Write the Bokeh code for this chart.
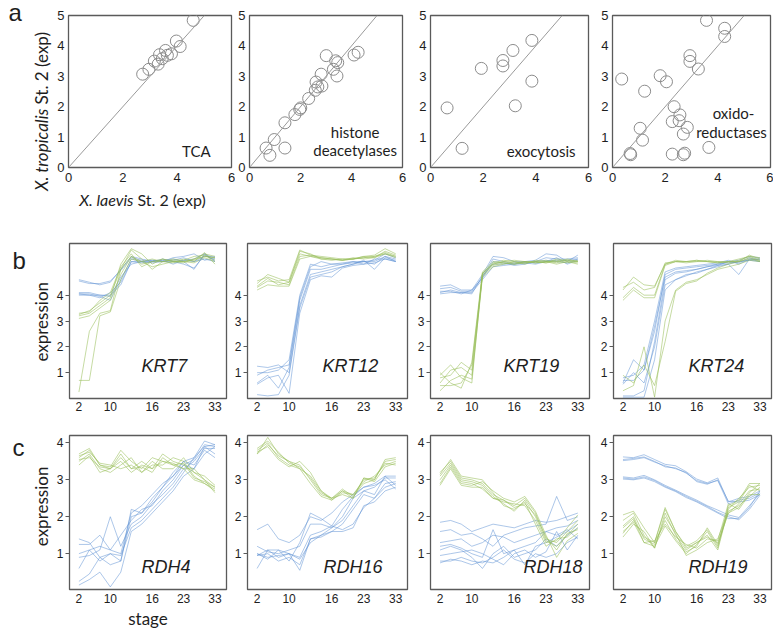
from bokeh.plotting import figure
from bokeh.layouts import row, column
from bokeh.models import FixedTicker, Label, Slope, Range1d
from bokeh.embed import file_html
from bokeh.resources import INLINE
import math

# ---------------- data ----------------
STAGE_POS = [0, 1, 2, 3, 4, 5, 6, 7, 8, 9, 10, 11, 12, 13]
STAGE_TICK_POS = [0, 3, 7, 10, 13]
STAGE_TICK_LABELS = ["2", "10", "16", "23", "33"]

SCATTER_X_TICKS = [0, 2, 4, 6]
SCATTER_Y_TICKS = [0, 1, 2, 3, 4, 5]
EXPR_TICKS = [1, 2, 3, 4]

TCA_x = [2.73, 2.96, 3.16, 3.30, 3.35, 3.45, 3.57, 3.64, 3.79, 3.97, 4.11, 4.59]
TCA_y = [3.07, 3.23, 3.50, 3.40, 3.71, 3.58, 3.85, 3.69, 3.74, 4.16, 3.98, 4.84]

HDAC_x = [0.65, 0.80, 0.97, 1.39, 1.39, 1.78, 1.97, 2.01, 2.32, 2.58, 2.61, 2.68, 2.81, 2.84,
          3.01, 3.29, 3.38, 3.46, 3.43, 4.10, 4.26]
HDAC_y = [0.64, 0.40, 0.92, 0.64, 1.47, 1.74, 1.91, 1.96, 2.27, 2.54, 2.81, 2.65, 3.07, 2.68,
          3.68, 3.23, 3.51, 3.45, 3.01, 3.70, 3.79]

EXO_x = [0.63, 1.20, 1.93, 2.75, 2.75, 3.13, 3.22, 3.85, 3.85]
EXO_y = [1.96, 0.63, 3.26, 3.52, 3.34, 3.85, 2.03, 2.84, 4.18]

OXI_x = [0.35, 0.67, 0.69, 1.05, 1.14, 1.22, 1.81, 2.05, 2.27, 2.27, 2.34, 2.53, 2.56, 2.69,
         2.69, 2.74, 2.84, 2.94, 2.94, 3.26, 3.57, 3.66, 4.26, 4.26]
OXI_y = [2.91, 0.46, 0.42, 1.29, 0.90, 2.51, 3.02, 2.82, 0.44, 1.51, 2.00, 1.54, 1.73, 1.10,
         0.42, 0.47, 1.32, 3.68, 3.49, 3.24, 4.84, 0.66, 4.58, 4.31]

KRT7_BLUE = [
    [4.55, 4.45, 4.45, 4.55, 4.95, 5.45, 5.35, 5.35, 5.30, 5.45, 5.50, 5.60, 5.35, 5.45],
    [4.60, 4.50, 4.40, 4.50, 5.00, 5.50, 5.40, 5.30, 5.35, 5.40, 5.30, 5.00, 5.60, 5.30],
    [4.05, 4.05, 3.95, 3.80, 4.60, 5.40, 5.30, 5.35, 5.30, 5.35, 5.45, 5.30, 5.50, 5.50],
    [4.05, 4.00, 3.90, 4.10, 4.50, 5.30, 5.25, 5.30, 5.35, 5.20, 5.35, 5.40, 5.60, 5.40],
    [4.10, 4.10, 4.00, 3.95, 4.70, 5.20, 5.30, 5.30, 5.40, 5.30, 5.20, 5.05, 5.55, 5.35],
    [4.00, 4.00, 4.00, 4.00, 4.40, 5.30, 5.30, 5.25, 5.30, 5.30, 5.35, 5.30, 5.40, 5.30],
]
KRT7_GREEN = [
    [3.25, 3.40, 3.70, 4.00, 5.00, 5.75, 5.40, 5.00, 5.30, 5.35, 5.30, 5.35, 5.50, 5.45],
    [3.20, 3.30, 3.60, 3.90, 5.20, 5.80, 5.60, 5.20, 5.40, 5.30, 5.25, 5.40, 5.60, 5.50],
    [3.10, 3.20, 3.50, 3.80, 4.80, 5.50, 5.30, 5.10, 5.20, 5.30, 5.30, 5.25, 5.45, 5.30],
    [3.30, 3.35, 3.80, 4.10, 5.10, 5.60, 5.10, 5.30, 5.30, 5.25, 5.40, 5.30, 5.65, 5.20],
    [0.25, 2.60, 3.30, 3.40, 5.00, 5.50, 5.20, 5.30, 5.40, 5.30, 5.30, 5.40, 5.50, 5.45],
    [0.70, 0.70, 3.20, 3.35, 4.60, 5.40, 5.30, 5.40, 5.30, 5.40, 5.35, 5.50, 5.55, 5.35],
]

KRT12_BLUE = [
    [0.60, 0.90, 0.40, 1.20, 3.80, 5.00, 5.00, 5.10, 5.20, 5.30, 5.20, 5.40, 5.40, 5.30],
    [1.00, 1.00, 1.10, 1.50, 4.00, 5.20, 5.10, 5.20, 5.20, 5.25, 5.30, 5.30, 5.50, 5.40],
    [1.25, 1.20, 1.30, 1.00, 3.60, 4.80, 4.90, 5.00, 5.10, 5.20, 5.30, 5.20, 5.50, 5.30],
    [0.15, 0.10, 0.15, 0.90, 3.50, 4.70, 4.80, 4.90, 5.10, 5.20, 5.35, 5.00, 5.45, 5.35],
    [0.55, 0.80, 0.90, 0.20, 3.30, 4.60, 4.75, 4.70, 5.05, 5.15, 5.20, 5.25, 5.40, 5.30],
    [0.90, 1.10, 1.20, 1.30, 3.90, 5.10, 5.30, 5.20, 5.25, 5.30, 5.30, 5.35, 5.60, 5.45],
]
KRT12_GREEN = [
    [4.30, 4.55, 4.50, 4.40, 5.50, 5.55, 5.45, 5.40, 5.35, 5.40, 5.45, 5.50, 5.65, 5.50],
    [4.45, 4.80, 4.65, 4.50, 5.70, 5.60, 5.40, 5.35, 5.40, 5.40, 5.50, 5.45, 5.70, 5.55],
    [4.20, 4.40, 4.35, 4.35, 5.40, 5.50, 5.45, 5.40, 5.35, 5.45, 5.40, 5.45, 5.60, 5.45],
    [4.55, 4.70, 4.55, 4.60, 5.75, 5.55, 5.50, 5.45, 5.40, 5.40, 5.50, 5.55, 5.80, 5.60],
    [4.35, 4.65, 4.40, 4.50, 5.60, 5.50, 5.40, 5.40, 5.35, 5.40, 5.45, 5.50, 5.60, 5.50],
]

KRT19_BLUE = [
    [4.35, 4.40, 4.20, 4.20, 4.80, 5.50, 5.45, 5.30, 5.30, 5.35, 5.60, 5.55, 5.30, 5.55],
    [4.25, 4.30, 4.15, 4.15, 4.70, 5.40, 5.30, 5.20, 5.25, 5.30, 5.45, 5.40, 5.40, 5.45],
    [4.10, 4.20, 4.10, 4.05, 4.75, 5.20, 5.20, 5.25, 5.25, 5.20, 5.30, 5.35, 5.35, 5.40],
    [4.05, 4.10, 4.10, 4.10, 4.60, 5.10, 5.15, 5.20, 5.30, 5.25, 5.30, 5.45, 5.20, 5.35],
    [4.15, 4.15, 4.05, 4.20, 4.65, 5.30, 5.25, 5.15, 5.20, 5.30, 5.35, 5.30, 5.25, 5.40],
]
KRT19_GREEN = [
    [0.90, 1.30, 0.80, 0.60, 4.85, 5.20, 5.30, 5.25, 5.30, 5.30, 5.25, 5.30, 5.35, 5.30],
    [1.00, 0.60, 0.40, 1.40, 4.90, 5.30, 5.25, 5.20, 5.30, 5.25, 5.30, 5.20, 5.30, 5.25],
    [0.60, 1.10, 1.20, 0.90, 4.80, 5.25, 5.35, 5.30, 5.25, 5.30, 5.35, 5.25, 5.40, 5.30],
    [0.30, 0.70, 0.90, 0.75, 4.70, 5.10, 5.20, 5.30, 5.20, 5.35, 5.30, 5.35, 5.30, 5.20],
    [0.80, 0.90, 1.40, 1.10, 4.85, 5.20, 5.30, 5.35, 5.30, 5.25, 5.30, 5.30, 5.25, 5.35],
    [0.50, 0.50, 0.60, 1.30, 4.75, 5.15, 5.25, 5.20, 5.25, 5.30, 5.25, 5.40, 5.35, 5.30],
]

KRT24_BLUE = [
    [0.60, 1.50, 1.10, 2.60, 4.80, 5.00, 5.05, 5.10, 5.15, 5.20, 5.30, 5.25, 5.45, 5.35],
    [0.80, 0.90, 1.30, 3.00, 4.90, 5.05, 5.10, 5.15, 5.20, 5.25, 5.35, 5.20, 5.40, 5.40],
    [0.10, 0.10, 0.30, 2.20, 4.60, 4.85, 4.90, 5.00, 5.10, 5.20, 5.25, 5.30, 5.35, 5.30],
    [0.55, 1.00, 0.60, 2.00, 4.40, 4.60, 4.75, 4.90, 5.00, 5.15, 5.30, 5.35, 5.50, 5.45],
    [0.70, 0.70, 1.10, 2.80, 4.70, 4.90, 4.95, 5.00, 5.10, 5.15, 5.20, 4.80, 5.40, 5.30],
    [0.05, 0.05, 0.05, 1.50, 4.20, 4.60, 4.80, 4.85, 5.00, 5.10, 5.20, 5.30, 5.35, 5.40],
]
KRT24_GREEN = [
    [4.20, 4.70, 4.40, 4.35, 5.20, 5.35, 5.30, 5.35, 5.30, 5.25, 5.30, 5.30, 5.55, 5.40],
    [4.30, 4.50, 4.20, 4.30, 5.25, 5.30, 5.30, 5.30, 5.35, 5.30, 5.25, 5.35, 5.50, 5.35],
    [3.80, 4.20, 3.90, 3.90, 5.15, 5.30, 5.25, 5.30, 5.30, 5.25, 5.30, 5.30, 5.45, 5.30],
    [3.90, 4.30, 4.00, 4.00, 5.20, 5.30, 5.30, 5.35, 5.30, 5.30, 5.30, 5.40, 5.50, 5.45],
    [0.30, 0.50, 2.00, 0.05, 3.00, 4.20, 4.50, 4.60, 4.80, 5.00, 5.10, 5.20, 5.35, 5.30],
    [0.90, 0.60, 1.30, 0.50, 2.20, 4.15, 4.45, 4.55, 4.85, 5.05, 5.20, 5.30, 5.40, 5.35],
]

RDH4_BLUE = [
    [1.40, 1.30, 0.90, 1.00, 0.80, 2.20, 2.10, 2.50, 2.80, 3.10, 3.50, 3.60, 4.05, 3.95],
    [1.25, 1.25, 1.50, 1.10, 1.50, 1.90, 2.20, 2.30, 2.70, 3.00, 3.40, 3.55, 3.95, 3.90],
    [0.90, 0.95, 1.10, 2.00, 1.20, 1.80, 2.00, 2.35, 2.60, 2.90, 3.30, 3.50, 3.85, 3.85],
    [0.60, 1.10, 0.80, 1.00, 0.95, 1.70, 1.90, 2.20, 2.50, 2.80, 3.20, 3.60, 3.90, 3.70],
    [0.25, 0.45, 0.90, 0.70, 0.80, 2.00, 2.10, 2.40, 2.80, 3.20, 3.50, 3.40, 3.80, 3.60],
    [0.15, 0.30, 0.50, 0.10, 0.50, 1.60, 1.80, 2.10, 2.40, 2.70, 3.10, 3.30, 3.70, 3.90],
    [1.00, 1.10, 1.20, 1.10, 1.00, 2.10, 2.30, 2.60, 2.90, 3.10, 3.40, 3.30, 3.90, 3.95],
]
RDH4_GREEN = [
    [3.60, 3.80, 3.40, 3.35, 3.80, 3.50, 3.30, 3.60, 3.50, 3.45, 3.30, 3.00, 2.90, 2.70],
    [3.70, 3.85, 3.40, 3.30, 3.60, 3.30, 3.50, 3.30, 3.70, 3.50, 3.40, 3.20, 3.00, 2.80],
    [3.50, 3.70, 3.30, 3.20, 3.40, 3.60, 3.20, 3.40, 3.40, 3.60, 3.50, 3.10, 2.90, 2.75],
    [3.40, 3.65, 3.20, 3.30, 3.50, 3.20, 3.40, 3.30, 3.50, 3.40, 3.30, 3.30, 3.00, 2.65],
    [3.65, 3.75, 3.45, 3.40, 3.30, 3.40, 3.20, 3.50, 3.30, 3.30, 3.60, 3.20, 3.10, 2.85],
    [3.55, 3.60, 3.35, 3.30, 3.70, 3.30, 3.35, 3.20, 3.60, 3.40, 3.45, 3.05, 2.95, 2.80],
]

RDH16_BLUE = [
    [1.65, 1.80, 1.40, 1.30, 1.50, 2.00, 1.90, 2.10, 2.40, 2.60, 2.80, 2.90, 3.10, 3.10],
    [1.20, 1.05, 1.00, 1.10, 1.20, 1.80, 1.80, 1.70, 2.00, 2.50, 2.70, 2.80, 3.05, 3.05],
    [0.95, 1.00, 0.80, 0.90, 0.70, 1.40, 1.50, 1.60, 1.80, 2.20, 2.60, 2.50, 2.90, 2.95],
    [1.00, 0.85, 1.10, 1.00, 0.85, 1.30, 1.50, 1.70, 1.90, 2.30, 2.70, 2.60, 3.10, 2.85],
    [0.60, 1.10, 0.90, 1.00, 0.55, 1.40, 1.45, 1.60, 1.60, 1.70, 2.30, 2.40, 2.70, 2.80],
    [0.95, 1.10, 1.10, 0.80, 1.30, 2.10, 1.95, 1.75, 1.65, 1.80, 2.25, 2.50, 2.80, 2.90],
    [1.00, 0.90, 0.95, 1.00, 0.90, 1.50, 1.60, 1.75, 2.20, 2.55, 2.80, 2.85, 3.00, 2.75],
]
RDH16_GREEN = [
    [3.70, 4.15, 3.70, 3.50, 3.40, 3.00, 2.60, 2.50, 2.60, 2.50, 3.05, 3.00, 3.50, 3.55],
    [3.80, 4.00, 3.60, 3.40, 3.30, 2.90, 2.55, 2.45, 2.70, 2.60, 3.00, 3.05, 3.45, 3.40],
    [3.75, 3.90, 3.55, 3.35, 3.50, 3.20, 2.70, 2.50, 2.75, 2.55, 2.90, 3.00, 3.55, 3.60],
    [3.70, 3.95, 3.65, 3.50, 3.30, 3.10, 2.70, 2.45, 2.65, 2.60, 2.95, 3.10, 3.40, 3.50],
    [3.85, 4.05, 3.75, 3.45, 3.35, 3.05, 2.65, 2.50, 2.70, 2.50, 3.05, 2.95, 3.35, 3.45],
]

RDH18_BLUE = [
    [1.85, 1.90, 1.80, 1.60, 1.70, 1.80, 1.75, 1.70, 1.80, 1.90, 1.85, 1.90, 2.00, 2.10],
    [1.60, 1.65, 1.50, 1.55, 1.40, 1.20, 1.50, 1.60, 1.70, 1.75, 1.80, 2.55, 1.90, 2.00],
    [1.30, 1.35, 1.40, 1.20, 1.30, 1.50, 1.45, 1.30, 1.40, 1.50, 1.60, 1.70, 1.75, 1.90],
    [1.20, 1.25, 1.15, 1.00, 0.90, 1.65, 1.00, 1.10, 0.70, 1.20, 1.30, 1.45, 1.60, 1.80],
    [1.10, 1.20, 1.10, 0.90, 0.60, 1.00, 1.20, 0.90, 1.00, 1.10, 1.40, 1.20, 1.50, 1.70],
    [0.95, 1.00, 1.05, 1.10, 1.00, 0.85, 0.70, 1.00, 1.10, 0.90, 1.05, 1.60, 1.10, 1.50],
    [0.80, 0.80, 0.90, 0.80, 0.75, 0.90, 1.10, 0.85, 0.75, 1.00, 0.90, 1.00, 1.30, 1.45],
    [0.75, 0.85, 0.80, 0.70, 0.80, 0.75, 0.90, 1.10, 1.20, 1.30, 1.60, 1.50, 1.65, 1.40],
]
RDH18_GREEN = [
    [3.20, 3.50, 3.05, 3.00, 2.90, 2.60, 2.45, 2.30, 2.50, 2.10, 1.40, 1.30, 1.60, 1.90],
    [3.10, 3.45, 3.00, 2.95, 2.85, 2.55, 2.35, 2.15, 2.45, 2.00, 1.35, 1.20, 1.50, 1.80],
    [3.00, 3.40, 2.95, 2.90, 2.75, 2.50, 2.40, 2.35, 2.30, 1.90, 1.30, 1.35, 1.70, 2.05],
    [2.90, 3.35, 2.90, 2.85, 2.95, 2.70, 2.50, 2.40, 2.55, 2.15, 1.50, 0.90, 1.35, 1.55],
    [3.15, 3.55, 3.10, 3.05, 3.00, 2.65, 2.30, 2.20, 2.40, 1.80, 1.20, 1.40, 1.45, 1.70],
    [2.85, 3.30, 2.85, 2.80, 2.80, 2.50, 2.45, 2.25, 2.35, 2.05, 1.45, 1.10, 1.55, 1.65],
]

RDH19_BLUE = [
    [3.62, 3.60, 3.68, 3.55, 3.42, 3.38, 3.22, 3.02, 2.92, 3.05, 2.40, 2.50, 2.55, 2.70],
    [3.55, 3.58, 3.62, 3.50, 3.35, 3.32, 3.18, 2.98, 2.90, 2.98, 2.35, 2.45, 2.50, 2.65],
    [3.52, 3.55, 3.60, 3.48, 3.38, 3.30, 3.20, 2.95, 2.88, 3.00, 2.42, 2.40, 2.45, 2.60],
    [3.08, 3.05, 3.12, 3.00, 2.85, 2.72, 2.58, 2.45, 2.30, 2.18, 2.05, 1.98, 2.30, 2.62],
    [3.05, 3.02, 3.08, 2.98, 2.82, 2.70, 2.55, 2.42, 2.28, 2.12, 2.00, 1.92, 2.20, 2.58],
    [3.02, 3.00, 3.05, 2.95, 2.80, 2.68, 2.52, 2.40, 2.25, 2.10, 1.95, 1.95, 2.25, 2.70],
]
RDH19_GREEN = [
    [2.05, 2.15, 1.70, 1.30, 2.25, 1.60, 1.20, 1.35, 1.65, 1.20, 2.30, 2.45, 2.90, 2.90],
    [1.90, 2.10, 1.50, 1.15, 2.10, 1.50, 1.10, 1.30, 1.50, 1.10, 2.20, 2.50, 2.80, 2.85],
    [1.75, 2.00, 1.40, 1.25, 1.90, 1.40, 1.05, 1.20, 1.70, 1.25, 2.10, 2.35, 2.70, 2.75],
    [1.60, 1.85, 1.30, 1.35, 1.80, 1.45, 1.25, 1.15, 1.40, 1.35, 2.35, 2.20, 2.60, 2.60],
    [1.45, 1.80, 1.60, 1.15, 2.00, 1.55, 0.95, 1.10, 1.30, 1.40, 2.15, 2.30, 2.55, 2.80],
    [1.70, 1.95, 1.30, 1.20, 1.75, 1.35, 1.00, 1.25, 1.60, 1.15, 2.25, 2.40, 2.85, 2.70],
    [1.55, 1.90, 1.45, 1.30, 2.20, 1.60, 1.15, 1.30, 1.45, 1.30, 2.10, 2.25, 2.65, 2.90],
]

SCATTER_PANELS = [
    ("TCA", TCA_x, TCA_y),
    ("histone deacetylases", HDAC_x, HDAC_y),
    ("exocytosis", EXO_x, EXO_y),
    ("oxido-reductases", OXI_x, OXI_y),
]
KRT_PANELS = [("KRT7", KRT7_BLUE, KRT7_GREEN), ("KRT12", KRT12_BLUE, KRT12_GREEN),
              ("KRT19", KRT19_BLUE, KRT19_GREEN), ("KRT24", KRT24_BLUE, KRT24_GREEN)]
RDH_PANELS = [("RDH4", RDH4_BLUE, RDH4_GREEN), ("RDH16", RDH16_BLUE, RDH16_GREEN),
              ("RDH18", RDH18_BLUE, RDH18_GREEN), ("RDH19", RDH19_BLUE, RDH19_GREEN)]

# ---------------- style / layout ----------------
BLUE = "#5b8fd4"
GREEN = "#97bd58"
FRAME_COLOR = "#5a5a5a"
TEXT = "#1e1e1e"
SANS = "Liberation Sans"
LABEL_FONT = "Lato"
PAGE_R = 773

# frames in page pixels (left, right, top, bottom)
ROW_A = [(67, 231, 15, 167), (247, 402, 15, 167), (430, 588, 15, 167), (612, 770, 15, 167)]
ROW_B = [(67, 226, 243, 398), (247, 407, 243, 398), (430, 589, 243, 398), (613, 771, 243, 398)]
ROW_C = [(67, 226, 435, 589), (247, 407, 435, 589), (430, 589, 435, 589), (613, 771, 435, 589)]
RIGHT_PAD_A = [4, 5, 5, 3]
RIGHT_PAD_BC = [5, 5, 5, 2]
A_TOP, A_BOT = 0, 188
XL_TOP, XL_BOT = 188, 222
B_TOP, B_BOT = 222, 416
C_TOP, C_BOT = 416, 631
STRIP_A_W, STRIP_B_W = 54, 53

XR_A, YR_A = (0, 6), (0, 5)
XR_B, YR_B = (-0.9, 14.1), (0, 6.0)
XR_C, YR_C = (-0.9, 14.1), (0.03, 4.2)


def make_fig(frame, fig_left, top, bottom, br, xr, yr):
    L, R, T, B = frame
    bl = L - fig_left
    bt = T - top
    bb = bottom - B
    w = bl + (R - L) + br
    h = bt + (B - T) + bb
    p = figure(width=w, height=h, x_range=Range1d(*xr), y_range=Range1d(*yr),
               output_backend="svg", toolbar_location=None, title=None,
               min_border_left=bl, min_border_right=br,
               min_border_top=bt, min_border_bottom=bb)
    p.grid.visible = False
    p.outline_line_color = FRAME_COLOR
    p.outline_line_width = 1.3
    for ax in (p.xaxis[0], p.yaxis[0]):
        ax.axis_line_color = None
        ax.major_tick_line_color = None
        ax.minor_tick_line_color = None
        ax.major_tick_in = 0
        ax.major_label_text_font = SANS
        ax.major_label_text_color = TEXT
    return p, fig_left + w


def make_strip(left, top, right, bottom):
    """Blank text area; its data units are page pixels (y measured upward)."""
    p = figure(width=right - left, height=bottom - top, x_range=Range1d(left, right),
               y_range=Range1d(-bottom, -top), output_backend="svg", toolbar_location=None,
               title=None, x_axis_location=None, y_axis_location=None, min_border=0,
               outline_line_color=None)
    p.grid.visible = False
    return p


def strip_text(p, px, py, text, size, font=LABEL_FONT, style="normal", align="left",
               angle=0.0):
    p.add_layout(Label(x=px, y=-py, text=text, text_font=font, text_font_size=f"{size}px",
                       text_font_style=style, text_align=align, text_baseline="middle",
                       angle=angle, text_color=TEXT))


def add_text(p, frame, xr, yr, px, py, text, size, font=LABEL_FONT, style="normal",
             align="left"):
    L, R, T, B = frame
    x = xr[0] + (px - L) / (R - L) * (xr[1] - xr[0])
    y = yr[0] + (B - py) / (B - T) * (yr[1] - yr[0])
    p.add_layout(Label(x=x, y=y, text=text, text_font=font, text_font_size=f"{size}px",
                       text_font_style=style, text_align=align, text_baseline="middle",
                       text_color=TEXT))


# ---------------- row a ----------------
strip_a = make_strip(0, A_TOP, STRIP_A_W, XL_BOT)
strip_text(strip_a, 8, 12, "a", 24, font=SANS)
strip_text(strip_a, 41, 108, "X. tropicalis", 17, style="italic", align="right",
           angle=math.pi / 2)
strip_text(strip_a, 41, 104, "St. 2 (exp)", 17, angle=math.pi / 2)

panels_a = []
left = STRIP_A_W
for i, (name, xs, ys) in enumerate(SCATTER_PANELS):
    fr = ROW_A[i]
    p, left = make_fig(fr, left, A_TOP, A_BOT, RIGHT_PAD_A[i], XR_A, YR_A)
    p.xaxis.ticker = FixedTicker(ticks=SCATTER_X_TICKS)
    p.yaxis.ticker = FixedTicker(ticks=SCATTER_Y_TICKS)
    p.xaxis.major_label_text_font_size = "13px"
    p.yaxis.major_label_text_font_size = "13px"
    p.xaxis.major_label_standoff = 5
    p.yaxis.major_label_standoff = 4
    p.yaxis.major_tick_out = 0
    p.xaxis.major_tick_out = 0
    p.add_layout(Slope(gradient=1, y_intercept=0, line_color="#9a9a9a", line_width=1))
    p.scatter(xs, ys, size=12, marker="circle", fill_color=None,
              line_color="#8c8c8c", line_width=1)
    panels_a.append(p)

pa = panels_a
add_text(pa[0], ROW_A[0], XR_A, YR_A, 210, 150, "TCA", 15, align="right")
add_text(pa[1], ROW_A[1], XR_A, YR_A, 354, 131, "histone", 15, align="center")
add_text(pa[1], ROW_A[1], XR_A, YR_A, 354, 149, "deacetylases", 15, align="center")
add_text(pa[2], ROW_A[2], XR_A, YR_A, 575, 150, "exocytosis", 15, align="right")
add_text(pa[3], ROW_A[3], XR_A, YR_A, 733, 112, "oxido-", 15, align="center")
add_text(pa[3], ROW_A[3], XR_A, YR_A, 731, 131, "reductases", 15, align="center")

strip_x = make_strip(STRIP_A_W, XL_TOP, PAGE_R, XL_BOT)
strip_text(strip_x, 133, 199, "X. laevis", 16, style="italic", align="right")
strip_text(strip_x, 137, 199, "St. 2 (exp)", 16)


# ---------------- rows b, c ----------------
def line_row(panels, frames, top, bottom, xr, yr, label_lefts, label_mid, letter, letter_mid,
             expr_center, x_standoff):
    strip = make_strip(0, top, STRIP_B_W, bottom)
    strip_text(strip, 12, letter_mid, letter, 24, font=SANS)
    strip_text(strip, 41, expr_center, "expression", 17, align="center", angle=math.pi / 2)
    figs = [strip]
    left = STRIP_B_W
    for i, (gene, blue, green) in enumerate(panels):
        fr = frames[i]
        p, left = make_fig(fr, left, top, bottom, RIGHT_PAD_BC[i], xr, yr)
        p.xaxis.ticker = FixedTicker(ticks=STAGE_TICK_POS)
        p.xaxis.major_label_overrides = dict(zip(STAGE_TICK_POS, STAGE_TICK_LABELS))
        p.yaxis.ticker = FixedTicker(ticks=EXPR_TICKS)
        p.xaxis.major_label_text_font_size = "12px"
        p.yaxis.major_label_text_font_size = "12px"
        p.xaxis.major_tick_out = 0
        p.xaxis.major_label_standoff = x_standoff
        p.yaxis.major_tick_out = 4
        p.yaxis.major_tick_line_color = FRAME_COLOR
        p.yaxis.major_label_standoff = 2
        p.multi_line([STAGE_POS] * len(blue), blue, line_color=BLUE, line_alpha=0.5,
                     line_width=1)
        p.multi_line([STAGE_POS] * len(green), green, line_color=GREEN, line_alpha=0.55,
                     line_width=1)
        add_text(p, fr, xr, yr, label_lefts[i], label_mid, gene, 18, font=SANS,
                 style="italic", align="left")
        figs.append(p)
    return figs


row_b = line_row(KRT_PANELS, ROW_B, B_TOP, B_BOT, XR_B, YR_B,
                 [140, 322, 503, 688], 365, "b", 243, 320, 3)
row_c = line_row(RDH_PANELS, ROW_C, C_TOP, C_BOT, XR_C, YR_C,
                 [140, 323, 523, 688], 566, "c", 433, 515, 4)

c0 = row_c[1]
c0.xaxis.axis_label = "stage"
c0.xaxis.axis_label_text_font = LABEL_FONT
c0.xaxis.axis_label_text_font_size = "17px"
c0.xaxis.axis_label_text_font_style = "normal"
c0.xaxis.axis_label_text_color = TEXT
c0.xaxis.axis_label_standoff = 2

top_block = row(strip_a, column(row(*panels_a), strip_x))
layout = column(top_block, row(*row_b), row(*row_c))
open("out.html", "w").write(file_html(layout, INLINE))
